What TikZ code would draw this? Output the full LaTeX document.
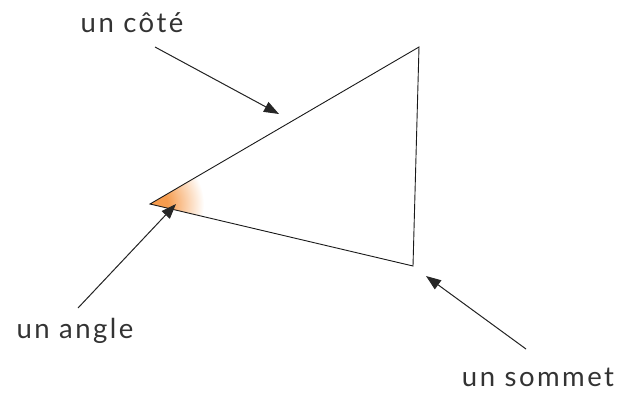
\documentclass[tikz,border=0pt]{standalone}
\usepackage{fontspec}
\setmainfont{Lato}
\newfontfamily\lblfont[LetterSpace=9]{Lato}
\usetikzlibrary{arrows.meta}
\definecolor{angc}{RGB}{246,156,78}
\pgfdeclareradialshading{angfade}{\pgfpoint{0bp}{0bp}}{color(0bp)=(angc); color(8bp)=(angc); color(25bp)=(white); color(50bp)=(white)}
\tikzset{
  tri/.style={draw=black!90,line width=0.9pt,line join=miter},
  arr/.style={-{Triangle[length=15pt,width=11pt]},line width=1pt,draw=black!85,fill=black!85},
  lbl/.style={font=\lblfont\fontsize{27.5}{30}\selectfont,text=black!80,inner sep=0pt}
}
\begin{document}
\begin{tikzpicture}[x=1pt,y=-1pt]
  \useasboundingbox (0,0) rectangle (624,392);
  % Triangle vertices
  \coordinate (A) at (150,204);
  \coordinate (B) at (419,47);
  \coordinate (C) at (413,266);

  % Angle shading
  \begin{scope}
    \clip (A) -- (B) -- (C) -- cycle;
    \shade[shading=angfade] (A) circle (54);
  \end{scope}
  \draw[tri] (A) -- (B) -- (C) -- cycle;

  % Labels
  \node[lbl] (cote) at (132,23) {un côté};
  \node[lbl] (angle) at (75,331) {un angle};
  \node[lbl] (sommet) at (538,377) {un sommet};

  % Arrows
  \coordinate (cote_s) at (155,47);
  \coordinate (cote_t) at (279,114);
  \coordinate (angle_s) at (78,308);
  \coordinate (angle_t) at (176,204);
  \coordinate (sommet_s) at (526,349);
  \coordinate (sommet_t) at (426,276);
  \draw[arr] (cote_s) -- (cote_t);
  \draw[arr] (angle_s) -- (angle_t);
  \draw[arr] (sommet_s) -- (sommet_t);
\end{tikzpicture}
\end{document}
